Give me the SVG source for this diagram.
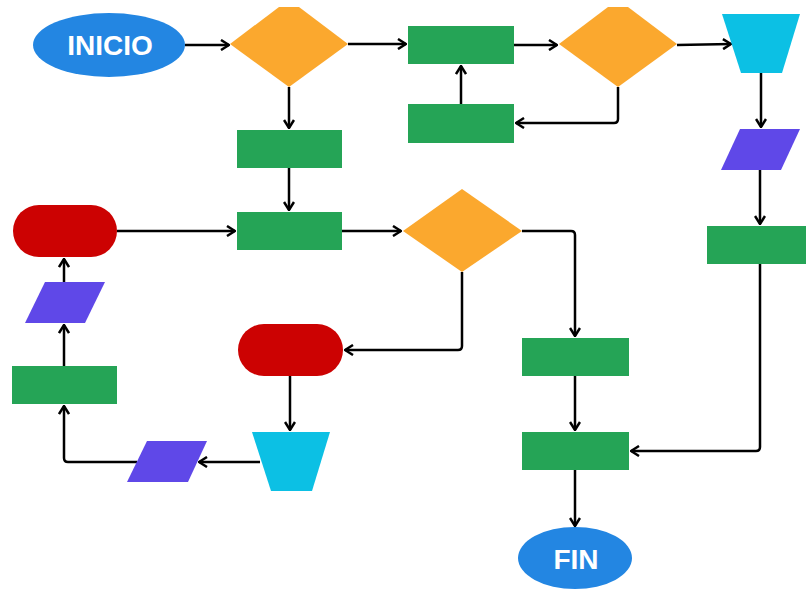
<svg xmlns="http://www.w3.org/2000/svg" width="806" height="590" viewBox="0 0 806 590">
<style>
.term{fill:#2386E2}
.dec{fill:#FBA82E}
.proc{fill:#25A456}
.red{fill:#CC0202}
.trap{fill:#0CC0E4}
.io{fill:#5F48E8}
.lbl{font-family:"Liberation Sans",Arial,sans-serif;font-weight:bold;font-size:28px;fill:#FFFFFF;text-anchor:middle}
.conn path{fill:none;stroke:#000;stroke-width:2.5}
</style>
<defs>
<marker id="arr" viewBox="0 0 10 12" refX="9" refY="6" markerWidth="10" markerHeight="12" markerUnits="userSpaceOnUse" orient="auto">
<path d="M1,1 L9,6 L1,11" fill="none" stroke="#000" stroke-width="2.5"/>
</marker>
</defs>
<rect width="806" height="590" fill="#FFFFFF"/>
<g id="connectors" class="conn">
<path d="M185,45 H229" marker-end="url(#arr)"/>
<path d="M348,44 H406" marker-end="url(#arr)"/>
<path d="M514,45 H557" marker-end="url(#arr)"/>
<path d="M677,45 L731,44" marker-end="url(#arr)"/>
<path d="M618,87 V119 Q618,123 614,123 H516" marker-end="url(#arr)"/>
<path d="M461,104 V66" marker-end="url(#arr)"/>
<path d="M289,87 V128" marker-end="url(#arr)"/>
<path d="M289,168 V210" marker-end="url(#arr)"/>
<path d="M117,231 H235" marker-end="url(#arr)"/>
<path d="M342,231 H401" marker-end="url(#arr)"/>
<path d="M522,231 H571 Q575,231 575,235 V336" marker-end="url(#arr)"/>
<path d="M462,272 V346 Q462,350 458,350 H345" marker-end="url(#arr)"/>
<path d="M761,73 V127" marker-end="url(#arr)"/>
<path d="M760,170 V224" marker-end="url(#arr)"/>
<path d="M760,264 V447 Q760,451 756,451 H631" marker-end="url(#arr)"/>
<path d="M575,376 V430" marker-end="url(#arr)"/>
<path d="M575,470 V526" marker-end="url(#arr)"/>
<path d="M290,376 V430" marker-end="url(#arr)"/>
<path d="M260,462 H199" marker-end="url(#arr)"/>
<path d="M137,462 H68 Q64,462 64,458 V406" marker-end="url(#arr)"/>
<path d="M64,366 V325" marker-end="url(#arr)"/>
<path d="M64,282 V259" marker-end="url(#arr)"/>
</g>
<g id="inicio"><ellipse class="term" cx="109" cy="45" rx="76" ry="32"/><text class="lbl" x="110" y="55">INICIO</text></g>
<g id="decision1"><polygon class="dec" points="230,44 279,7 299,7 348,44 289,87"/></g>
<g id="procA"><rect class="proc" x="237" y="130" width="105" height="38"/></g>
<g id="procB"><rect class="proc" x="237" y="212" width="105" height="38"/></g>
<g id="procC"><rect class="proc" x="408" y="26" width="106" height="38"/></g>
<g id="procD"><rect class="proc" x="408" y="104" width="106" height="39"/></g>
<g id="decision3"><polygon class="dec" points="559,44 608,7 628,7 677,44 618,87"/></g>
<g id="manual1"><polygon class="trap" points="722,14 800,14 782,73 741,73"/></g>
<g id="data1"><polygon class="io" points="740,129 800,129 781,170 721,170"/></g>
<g id="procE"><rect class="proc" x="707" y="226" width="106" height="38"/></g>
<g id="terminal1"><rect class="red" x="13" y="205" width="104" height="52" rx="26" ry="26"/></g>
<g id="decision2"><polygon class="dec" points="403,231 462,189 522,231 462,272"/></g>
<g id="data2"><polygon class="io" points="45,282 105,282 85,323 25,323"/></g>
<g id="procG"><rect class="proc" x="12" y="366" width="105" height="38"/></g>
<g id="terminal2"><rect class="red" x="238" y="324" width="105" height="52" rx="26" ry="26"/></g>
<g id="manual2"><polygon class="trap" points="252,432 330,432 312,491 271,491"/></g>
<g id="data3"><polygon class="io" points="147,441 207,441 188,482 127,482"/></g>
<g id="procF"><rect class="proc" x="522" y="338" width="107" height="38"/></g>
<g id="procH"><rect class="proc" x="522" y="432" width="107" height="38"/></g>
<g id="fin"><ellipse class="term" cx="575" cy="558" rx="57" ry="31"/><text class="lbl" x="576" y="569">FIN</text></g>
</svg>
